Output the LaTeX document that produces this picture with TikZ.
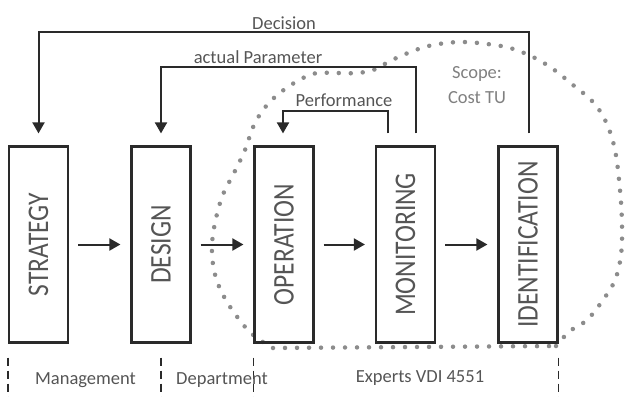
\documentclass[tikz,border=0pt]{standalone}
\usepackage{fontspec}
\setmainfont{Carlito}
\newfontfamily\boxfont{Carlito}[FakeStretch=0.85]
\usetikzlibrary{arrows.meta,calc}
\definecolor{txtgray}{HTML}{555555}
\definecolor{scopegray}{HTML}{808080}
\definecolor{linegray}{HTML}{2A2A2A}
\definecolor{dotgray}{HTML}{8C8C8C}
\begin{document}
\begin{tikzpicture}[x=1pt,y=-1pt,
  stagebox/.style={draw=linegray,line width=2.2pt,minimum width=59pt,minimum height=196pt,inner sep=0pt},
  stagelabel/.style={rotate=90,font=\boxfont\fontsize{30}{32}\selectfont,text=txtgray},
  flow/.style={draw=linegray,line width=2pt,-{Triangle[length=11pt,width=12pt]}},
  fb/.style={draw=linegray,line width=2pt,-{Triangle[length=11pt,width=12pt]}},
  lbl/.style={font=\fontsize{18.5}{20}\selectfont,text=txtgray,inner sep=0pt},
  sep/.style={draw=linegray,line width=1.5pt,dash pattern=on 8pt off 5pt},
  dots/.style={draw=dotgray,line width=4.5pt,line cap=round,dash pattern=on 0pt off 12pt}
]
\useasboundingbox (0,0) rectangle (626,396);
% scope outline
\draw[dots] (273,348) -- (556,346);
\draw[dots] plot[smooth,tension=0.6] coordinates {
 (556,346) (570,331) (587,320) (603,300) (615,280) (621,255) (622,225) (620,190) (615,150) (606,122) (593,102) (573,85) (553,69) (533,57) (510,48) (487,44) (460,42) (433,45) (413,51) (390,61) (376,69) (358,73) (338,73) (318,73) (305,77) (285,89) (267,105) (254,125) (245,150) (234,173) (222,197) (214,228) (212,253) (216,278) (227,302) (246,328) (260,340) (273,348)};
% stages
\node[stagebox] (str) at (38.5,244.5) {};
\node[stagebox] (des) at (161,244.5) {};
\node[stagebox] (op)  at (284,244.5) {};
\node[stagebox] (mon) at (405.5,244.5) {};
\node[stagebox] (id)  at (528,244.5) {};
\node[stagelabel] at (str.center) {STRATEGY};
\node[stagelabel] at (des.center) {DESIGN};
\node[stagelabel] at (op.center) {OPERATION};
\node[stagelabel] at (mon.center) {MONITORING};
\node[stagelabel] at (id.center) {IDENTIFICATION};
% forward arrows
\draw[flow,shorten <=9pt,shorten >=10pt] (str.east) -- (des.west);
\draw[flow,shorten <=9pt,shorten >=10pt] (des.east) -- (op.west);
\draw[flow,shorten <=9pt,shorten >=10pt] (op.east) -- (mon.west);
\draw[flow,shorten <=9pt,shorten >=10pt] (mon.east) -- (id.west);
% feedback arrows
\draw[fb] ([xshift=1pt,yshift=12pt]id.north) -- ++(0,-101) -| ([yshift=12pt]str.north);
\draw[fb] ([xshift=10.5pt,yshift=12pt]mon.north) -- ++(0,-66) -| ([yshift=12pt]des.north);
\draw[fb] ([xshift=-17.5pt,yshift=12pt]mon.north) -- ++(0,-22) -| ([xshift=-1pt,yshift=12pt]op.north);
% labels
\node[lbl] (dec) at (284,23) {Decision};
\node[lbl] (par) at (258,57) {actual Parameter};
\node[lbl] (perf) at (344,100) {Performance};
\node[lbl,align=center,text=scopegray] (scope) at (477,85) {Scope:\\[5pt]Cost TU};
% bottom separators
\draw[sep] ([yshift=-14pt]str.south west) -- ++(0,42);
\draw[sep] ([yshift=-14pt]des.south) -- ++(0,42);
\draw[sep] ([yshift=-14pt]op.south west) -- ++(0,42);
\draw[sep] ([yshift=-14pt]id.south east) -- ++(0,42);
\node[lbl] (mgmt) at (85.5,380) {Management};
\node[lbl] (dept) at (222,380) {Department};
\node[lbl] (exp) at (420,378) {Experts VDI 4551};
\end{tikzpicture}
\end{document}
